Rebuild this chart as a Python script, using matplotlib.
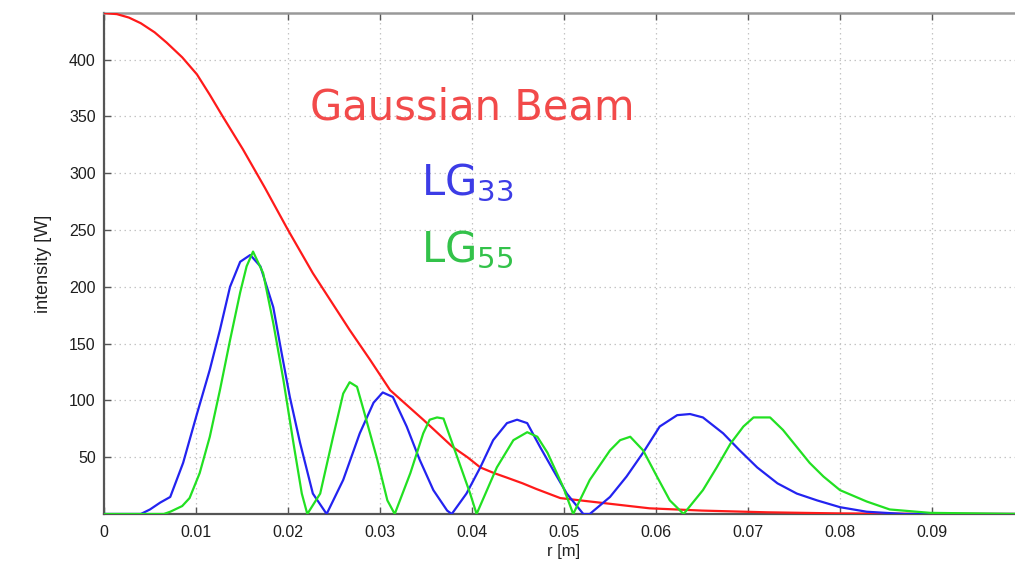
import matplotlib
matplotlib.use("Agg")
import matplotlib.pyplot as plt

# ---- data ----
gauss_r = [0, 0.0014, 0.0027, 0.004, 0.0055, 0.0068, 0.0085, 0.0101, 0.0115, 0.0129,
           0.0151, 0.0175, 0.0200, 0.0227, 0.0247, 0.0267, 0.0289, 0.0311, 0.0329,
           0.0347, 0.0363, 0.0379, 0.0395, 0.0409, 0.0424, 0.0438, 0.0455, 0.0470,
           0.0496, 0.0539, 0.0593, 0.065, 0.072, 0.08, 0.09, 0.1]
gauss_i = [441, 440, 437, 432, 424, 415, 402, 387, 369, 350,
           321, 287, 250, 212, 187, 162, 136, 109, 96,
           83, 71, 59, 50, 41, 36, 32, 27, 22,
           14, 10, 5, 3, 1.5, 0.5, 0.1, 0]

lg33_r = [0, 0.004, 0.0050, 0.0061, 0.0072, 0.0086, 0.0101, 0.0115, 0.0126, 0.0137,
          0.0148, 0.0159, 0.0170, 0.0184, 0.0193, 0.0202, 0.0213, 0.0227, 0.0242,
          0.0260, 0.0278, 0.0293, 0.0303, 0.0314, 0.0329, 0.0343, 0.0358, 0.0373,
          0.0378, 0.0394, 0.0409, 0.0423, 0.0438, 0.0449, 0.0460, 0.0474, 0.0488,
          0.0503, 0.0521, 0.0528, 0.0550, 0.0568, 0.0586, 0.0604, 0.0623, 0.0637,
          0.0651, 0.0673, 0.0691, 0.0710, 0.0732, 0.0753, 0.0775, 0.0800, 0.0829,
          0.087, 0.1]
lg33_i = [0, 0, 4, 10, 15, 45, 88, 127, 162, 200,
          222, 228, 218, 182, 142, 103, 63, 18, 0,
          30, 71, 98, 107, 103, 77, 48, 21, 3,
          0, 18, 41, 65, 80, 83, 80, 59, 39,
          18, 0, 0, 15, 33, 54, 77, 87, 88,
          85, 71, 56, 41, 27, 18, 12, 6, 2,
          0, 0]

lg55_r = [0, 0.0065, 0.0072, 0.0085, 0.0093, 0.0104, 0.0115, 0.0126, 0.0137, 0.0148,
          0.0155, 0.0162, 0.0173, 0.0184, 0.0195, 0.0206, 0.0215, 0.0221, 0.0235,
          0.0249, 0.0260, 0.0267, 0.0275, 0.0282, 0.0297, 0.0308, 0.0316, 0.0333,
          0.0347, 0.0354, 0.0362, 0.0369, 0.0384, 0.0398, 0.0405, 0.0427, 0.0445,
          0.0460, 0.0471, 0.0482, 0.0499, 0.0510, 0.0528, 0.0550, 0.0561, 0.0572,
          0.0586, 0.0601, 0.0615, 0.0630, 0.0651, 0.0666, 0.0681, 0.0695, 0.0706,
          0.0724, 0.0738, 0.0753, 0.0767, 0.0782, 0.0800, 0.0829, 0.0854, 0.0898, 0.1]
lg55_i = [0, 0, 2, 7, 14, 36, 68, 109, 153, 195,
          218, 231, 212, 168, 118, 62, 18, 0, 18,
          68, 106, 116, 112, 92, 48, 12, 0, 36,
          71, 83, 85, 84, 50, 18, 0, 41, 65,
          72, 68, 54, 24, 0, 30, 56, 65, 68,
          56, 33, 12, 0, 21, 41, 62, 77, 85,
          85, 74, 59, 45, 33, 21, 11, 4, 1, 0]

x_ticks = [0, 0.01, 0.02, 0.03, 0.04, 0.05, 0.06, 0.07, 0.08, 0.09, 0.1]
x_tick_labels = ["0", "0.01", "0.02", "0.03", "0.04", "0.05", "0.06", "0.07", "0.08", "0.09", ""]
y_ticks = [50, 100, 150, 200, 250, 300, 350, 400]
y_tick_labels = ["50", "100", "150", "200", "250", "300", "350", "400"]

# ---- figure ----
W, H = 1015, 566
fig = plt.figure(figsize=(W / 100, H / 100), dpi=100)
ax = fig.add_axes([104 / W, (H - 514) / H, 920 / W, 501 / H])

ax.plot(gauss_r, gauss_i, color="#ff1a1a", lw=1.6, zorder=3)
ax.plot(lg33_r, lg33_i, color="#2323f0", lw=1.6, zorder=4)
ax.plot(lg55_r, lg55_i, color="#22e022", lw=1.6, zorder=5)

ax.set_xlim(0, 0.1)
ax.set_ylim(0, 441)
ax.set_xticks(x_ticks)
ax.set_xticklabels(x_tick_labels)
ax.set_yticks(y_ticks)
ax.set_yticklabels(y_tick_labels)

ax.grid(True, color="#c4c4c4", linestyle=(0, (1.2, 2.8)), lw=0.9)
ax.set_axisbelow(True)

ax.tick_params(direction="in", length=5, width=1.0, color="#555555",
               top=True, right=False, labelsize=11.5, labelcolor="#1e1e1e")
for lab in ax.get_xticklabels() + ax.get_yticklabels():
    lab.set_family("Liberation Sans")
ax.tick_params(axis="x", pad=8)
ax.tick_params(axis="y", pad=6)

for s in ["left", "bottom"]:
    ax.spines[s].set_color("#555555")
    ax.spines[s].set_linewidth(1.6)
ax.spines["top"].set_color("#999999")
ax.spines["top"].set_linewidth(1.8)
ax.spines["right"].set_visible(False)

ax.set_xlabel("r [m]", fontsize=12, family="Liberation Sans", color="#222222", labelpad=3)
ax.set_ylabel("intensity [W]", fontsize=13, family="Liberation Sans", color="#222222", labelpad=12)

plt.rcParams["mathtext.fontset"] = "dejavusans"
fig.text(310 / W, (H - 120) / H, "Gaussian Beam", color="#f24a4a",
         fontsize=30, family="DejaVu Sans", va="baseline", ha="left")
fig.text(421 / W, (H - 195) / H, r"LG$_{33}$", color="#3c3ce6",
         fontsize=30, family="DejaVu Sans", va="baseline", ha="left")
fig.text(421 / W, (H - 262) / H, r"LG$_{55}$", color="#33c24a",
         fontsize=30, family="DejaVu Sans", va="baseline", ha="left")

fig.savefig("out.png", dpi=100)
